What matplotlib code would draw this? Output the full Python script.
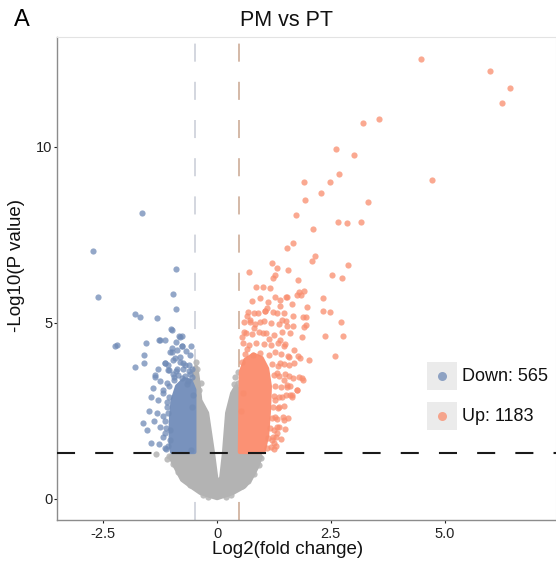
import matplotlib
matplotlib.use('Agg')
import matplotlib.pyplot as plt
from matplotlib.patches import Rectangle

plt.rcParams['font.family'] = ['Liberation Sans', 'DejaVu Sans']
plt.rcParams['lines.scale_dashes'] = False

# thresholds
fc_cut = 0.485          # log2(1.4)
p_cut = 1.301           # -log10(0.05)

# dense cores of the cloud (outlines)
grey_core_x = [0.0, 0.35, 0.6, 0.73, 0.88, 0.96, 0.9, 0.5, 0.5, 0.42, 0.33, 0.22, 0.15, 0.09, 0.02,
               -0.02, -0.09, -0.22, -0.37, -0.42, -0.46, -0.5, -0.5, -0.9, -1.03, -0.92, -0.77, -0.55, -0.37]
grey_core_y = [0.02, 0.17, 0.35, 0.54, 0.91, 1.2, 1.33, 1.33, 3.0, 3.2, 3.0, 2.44, 1.3, 0.6, 0.48,
               0.6, 1.3, 2.44, 2.8, 3.4, 3.75, 3.7, 1.33, 1.33, 1.2, 0.91, 0.54, 0.33, 0.17]

down_core_x = [-0.99, -0.5, -0.5, -0.58, -0.72, -0.88, -0.98, -1.02, -1.02]
down_core_y = [1.33, 1.33, 3.1, 3.35, 3.4, 3.2, 2.8, 2.2, 1.5]

up_core_x = [0.5, 1.02, 1.1, 1.14, 1.16, 1.1, 0.98, 0.8, 0.62, 0.52]
up_core_y = [1.33, 1.33, 1.8, 2.5, 3.2, 3.7, 4.0, 4.1, 3.95, 3.6]

# individual points
grey_x = [-0.44, -1.34, -1.1, -1.05, -0.98, 0.97, 0.92, 0.8, -0.85, -0.6, 0.55, -0.3, 0.3,
          -0.47, 0.45, 0.47, -0.7, 0.68, 0.2, -0.2, -0.4, 0.4, 0.38, -0.35]
grey_y = [3.69, 1.28, 1.14, 1.22, 1.0, 1.15, 0.95, 0.7, 0.75, 0.4, 0.38, 0.12, 0.12,
          3.9, 3.3, 3.6, 0.55, 0.5, 0.05, 0.06, 3.1, 3.45, 3.25, 3.3]

down_x = [-1.65, -2.73, -2.62, -0.91, -0.97, -0.91, -1.81, -1.69, -1.32, -1.01, -0.84, -0.77,
          -2.24, -2.2, -1.56, -1.27, -1.14, -0.77, -0.99, -0.88, -1.6, -1.6, -1.8, -1.14, -1.08,
          -0.97, -0.81, -0.7, -0.62, -1.36, -0.99, -0.81, -1.25, -1.36, -1.4, -1.19, -1.3, -1.32,
          -1.25, -1.14, -1.03, -1.03, -0.78, -0.92, -1.14, -1.07, -0.74, -0.81, -1.1, -0.95, -0.6,
          -0.65, -1.05, -1.1, -1.15, -1.08, -1.12, -1.55, -1.45, -1.62, -0.55, -0.6, -1.06, -0.58,
          -1.15, -1.2, -1.12, -1.18, -1.1, -1.2, -1.05, -0.98, -0.88, -0.75, -0.62, -0.55, -1.25,
          -1.3, -0.9, -0.68, -0.58, -1.0, -1.45, -1.5, -1.38, -1.28, -0.85, -0.7, -0.95, -0.66,
          -1.07, -0.53, -0.9, -0.78, -1.04, -0.56]
down_y = [8.12, 7.05, 5.74, 6.53, 5.82, 5.4, 5.26, 5.18, 5.15, 4.83, 4.63, 4.63,
          4.35, 4.38, 4.43, 4.52, 4.52, 4.35, 4.18, 4.23, 4.09, 3.86, 3.75, 3.86, 3.8,
          3.95, 3.9, 3.8, 3.8, 3.52, 4.8, 4.6, 4.52, 3.47, 3.15, 3.1, 2.81, 2.44,
          2.05, 1.88, 1.68, 4.18, 4.33, 4.0, 3.86, 3.66, 3.86, 4.04, 3.3, 3.45, 3.55,
          3.35, 2.9, 2.6, 2.2, 1.5, 1.42, 1.95, 1.6, 2.15, 3.7, 4.1, 3.65, 1.4,
          1.45, 1.75, 2.0, 2.35, 2.75, 3.0, 3.2, 3.55, 3.68, 3.7, 3.62, 3.45, 3.35,
          3.7, 4.45, 4.2, 4.35, 4.3, 2.9, 2.5, 2.2, 1.55, 3.52, 3.5, 3.38, 3.25,
          2.45, 2.95, 3.62, 3.42, 1.95, 2.6]

up_x = [4.48, 6.0, 6.44, 6.26, 3.56, 3.2, 2.62, 3.01, 2.68, 1.91, 2.48, 4.73, 2.28, 1.93, 3.32,
        1.73, 2.66, 2.86, 3.16, 2.1, 1.67, 1.54, 2.15, 2.09, 2.88, 2.53, 2.75, 1.2, 0.69, 1.31,
        1.56, 1.23, 1.27, 1.01, 1.78, 1.8, 1.91, 1.85, 0.95, 1.27, 1.52, 2.33, 1.65, 1.98, 2.33,
        2.48, 1.67, 1.89, 2.73, 1.67, 1.96, 2.37, 2.77, 2.59, 2.02, 1.82, 1.78, 1.89, 1.67, 1.76,
        1.6, 1.27, 1.32, 1.23, 0.73, 0.95, 1.54, 1.76, 1.87, 1.91, 1.96, 0.73, 0.9, 1.1, 1.38,
        1.31, 1.42, 1.53, 1.6, 1.38, 1.46, 1.68, 1.57, 1.38, 1.31, 1.46, 1.53, 1.42, 1.35, 1.46,
        1.31, 1.24, 1.79, 1.86, 1.64, 1.75, 0.6, 0.8, 1.0, 1.15, 0.65, 1.05, 0.55, 1.28, 1.3,
        1.1, 1.18, 1.25, 1.12, 1.21, 1.3, 1.41, 1.17, 1.26, 1.37, 1.49, 1.2, 1.31, 1.44, 1.56,
        1.22, 1.34, 1.47, 1.26, 1.37, 1.51, 1.64, 1.28, 1.4, 1.53, 1.61, 1.24, 1.36, 1.49, 1.57,
        1.21, 1.33, 1.46, 1.59, 1.7, 0.62, 0.78, 0.95, 1.15, 1.27, 1.41, 1.55, 0.57, 0.71, 0.86,
        1.03, 1.19, 1.34, 1.5, 0.63, 0.77, 0.93, 1.08, 1.24, 1.43, 0.6, 0.84, 1.02, 1.19, 1.36,
        1.51, 0.67, 0.81, 1.06, 1.22, 1.46, 0.76, 1.11, 1.39, 0.86, 1.16, 0.54, 0.66, 0.52, 0.58]
up_y = [12.5, 12.16, 11.68, 11.25, 10.8, 10.68, 9.94, 9.77, 9.23, 9.0, 9.0, 9.06, 8.69, 8.49, 8.44,
        8.07, 7.87, 7.84, 7.87, 7.67, 7.27, 7.13, 6.9, 6.76, 6.65, 6.36, 6.28, 6.7, 6.45, 6.56,
        6.5, 6.28, 6.36, 6.02, 6.22, 5.88, 5.91, 5.8, 5.7, 5.74, 5.74, 5.71, 5.54, 5.45, 5.34,
        5.31, 5.2, 5.17, 5.03, 4.91, 4.94, 4.63, 4.63, 4.06, 3.95, 4.0, 4.05, 3.38, 3.44, 3.1,
        2.95, 2.33, 2.05, 1.76, 5.03, 5.03, 5.74, 5.8, 4.6, 4.89, 5.17, 5.09, 5.28, 5.43, 5.47,
        5.28, 5.09, 4.9, 4.71, 4.52, 4.33, 4.23, 4.04, 3.86, 3.57, 3.38, 3.19, 2.9, 2.62, 2.24,
        1.87, 1.58, 3.47, 3.43, 2.95, 3.1, 4.75, 4.85, 4.7, 4.55, 5.2, 5.35, 4.6, 2.8, 1.5,
        1.44, 1.48, 1.42, 1.72, 1.68, 1.75, 1.7, 2.02, 1.97, 2.04, 1.99, 2.31, 2.27, 2.33, 2.29,
        2.62, 2.58, 2.64, 2.92, 2.88, 2.95, 2.9, 3.22, 3.18, 3.24, 3.2, 3.52, 3.48, 3.55, 3.5,
        3.82, 3.78, 3.84, 3.8, 3.86, 4.12, 4.08, 4.14, 4.1, 4.16, 4.11, 4.07, 4.42, 4.38, 4.44,
        4.4, 4.36, 4.43, 4.39, 4.72, 4.68, 4.74, 4.7, 4.66, 4.73, 5.02, 4.98, 5.04, 5.0, 4.97,
        5.05, 5.32, 5.28, 5.34, 5.3, 5.27, 5.62, 5.58, 5.64, 6.02, 5.98, 3.9, 4.25, 2.5, 3.0]

n_down = 565
n_up = 1183

c_grey = '#b3b3b3'
c_down = '#6f8ab6'
c_up = '#f98c6d'

fig = plt.figure(figsize=(5.56, 5.68), dpi=100)
ax = fig.add_axes([57 / 556, 1 - 520 / 568, 499 / 556, 483 / 568])

# threshold lines under the points
ax.axvline(-fc_cut, color='#c7ccd6', lw=1.1, dashes=(13, 14.5), zorder=1)
ax.axvline(fc_cut, color='#c9a590', lw=1.1, dashes=(13, 14.5), zorder=1)

ax.fill(grey_core_x, grey_core_y, color=c_grey, lw=3, joinstyle='round', zorder=2)
ax.scatter(grey_x, grey_y, s=20, color=c_grey, alpha=0.85, lw=0, zorder=2)
ax.fill(down_core_x, down_core_y, color='#7892bd', lw=3, joinstyle='round', zorder=3)
ax.scatter(down_x, down_y, s=20, color=c_down, alpha=0.75, lw=0, zorder=3)
ax.fill(up_core_x, up_core_y, color='#fb9174', lw=3, joinstyle='round', zorder=3)
ax.scatter(up_x, up_y, s=20, color=c_up, alpha=0.75, lw=0, zorder=3)

ax.axhline(p_cut, color='#1a1a1a', lw=1.5, dashes=(13, 14.5), zorder=4)

ax.set_xlim(-3.52, 7.45)
ax.set_ylim(-0.6, 13.12)
ax.set_xticks([-2.5, 0, 2.5, 5.0])
ax.set_xticklabels(['-2.5', '0', '2.5', '5.0'])
ax.set_yticks([0, 5, 10])
ax.tick_params(axis='both', labelsize=10.5, colors='#222222', length=2, width=0.8, pad=1.5)
ax.tick_params(axis='x', pad=3)
for side in ['top', 'right']:
    ax.spines[side].set_color('#e3e3e3')
    ax.spines[side].set_linewidth(0.8)
for side in ['left', 'bottom']:
    ax.spines[side].set_color('#8c8c8c')
    ax.spines[side].set_linewidth(1.0)

ax.set_xlabel('Log2(fold change)', fontsize=13.5, color='#111111')
ax.xaxis.set_label_coords((288 - 57) / 499, (520 - 549) / 483)
ax.xaxis.label.set_va('center')
ax.set_ylabel('-Log10(P value)', fontsize=13.5, color='#111111')
ax.yaxis.set_label_coords((17 - 57) / 499, (520 - 266) / 483)
ax.yaxis.label.set_va('center')
ax.yaxis.label.set_ha('center')

ax.text((287 - 57) / 499, (520 - 20) / 483, 'PM vs PT', transform=ax.transAxes,
        ha='center', va='center', fontsize=15.5, color='#111111')
fig.text(22 / 556, 1 - 20 / 568, 'A', ha='center', va='center', fontsize=17)

# legend
for yb, col, lab in [(0.269, c_down, f'Down: {n_down}'), (0.186, c_up, f'Up: {n_up}')]:
    ax.add_patch(Rectangle((0.7415, yb), 0.06, 0.058, transform=ax.transAxes,
                           color='#ebebeb', lw=0, zorder=5))
    ax.plot([0.7715], [yb + 0.029], 'o', ms=6.5, color=col, alpha=0.75, mec='none',
            transform=ax.transAxes, zorder=6)
    ax.text(0.8116, yb + 0.029, lab, transform=ax.transAxes, ha='left', va='center',
            fontsize=13, color='#111111', zorder=6)

fig.savefig('out.png', dpi=100)
